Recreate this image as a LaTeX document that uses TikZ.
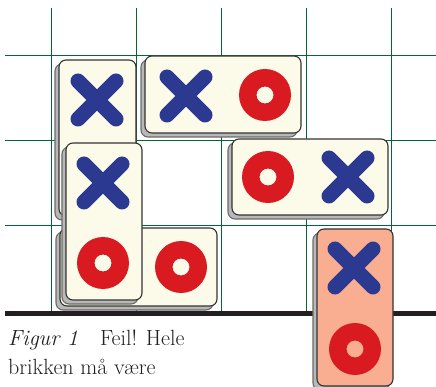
\documentclass[tikz,border=0pt]{standalone}
\usepackage{fontspec}
\usetikzlibrary{shadows}
\definecolor{gridgreen}{HTML}{006837}
\definecolor{inkblack}{HTML}{231F20}
\definecolor{cream}{HTML}{FCFAE8}
\definecolor{pinkface}{HTML}{F9AD91}
\definecolor{xblue}{HTML}{2B3990}
\definecolor{ored}{HTML}{D91A21}
\definecolor{shadowfill}{HTML}{B8B8B8}
\definecolor{shadowedge}{HTML}{6A6A6A}
\definecolor{tileedge}{HTML}{333333}
\begin{document}
\begin{tikzpicture}[x=1pt,y=-1pt,
  gridline/.style={draw=gridgreen, line width=0.9pt},
  baseline/.style={draw=inkblack, line width=5pt},
  tile/.style={draw=tileedge, line width=1.1pt, fill=cream, rounded corners=7pt,
    inner sep=0pt,
    general shadow={fill=shadowfill, draw=shadowedge, shadow xshift=-4pt, shadow yshift=-4pt}},
  pinktile/.style={tile, fill=pinkface},
  captext/.style={anchor=base west, inner sep=0pt, text=inkblack, font=\fontsize{22}{26}\selectfont},
  xsym/.pic={\draw[line width=15pt, line cap=round, xblue] (-19,-19) -- (19,19) (-19,19) -- (19,-19);},
  osym/.pic={\fill[ored, even odd rule] (0,0) circle[radius=26pt] (0,0) circle[radius=8.5pt];}
]
\useasboundingbox (0,0) rectangle (436,387);
% grid
\foreach \gx in {51,136,221,306,391} \draw[gridline] (\gx,8) -- (\gx,313);
\foreach \gy in {55,140,225} \draw[gridline] (5,\gy) -- (436,\gy);
\draw[baseline] (5,313.5) -- (436,313.5);
% tile A
\node[tile, minimum width=77pt, minimum height=156pt] (tA) at (97.5,138) {};
\pic at (97,100) {xsym};
% tile B
\node[tile, minimum width=156pt, minimum height=77pt] (tB) at (223,94.5) {};
\pic at (186,96) {xsym};
\pic at (265,95) {osym};
% tile C
\node[tile, minimum width=156pt, minimum height=76pt] (tC) at (310,177) {};
\pic at (268,177) {osym};
\pic at (348,177) {xsym};
% tile E
\node[tile, minimum width=157pt, minimum height=78pt] (tE) at (138.5,267) {};
\pic at (181,267) {osym};
% tile D
\node[tile, minimum width=76pt, minimum height=157pt] (tD) at (104,221.5) {};
\pic at (103,183) {xsym};
\pic at (103,263) {osym};
% tile F (pink)
\node[pinktile, minimum width=76pt, minimum height=157pt] (tF) at (355,307.5) {};
\pic at (354,268) {xsym};
\pic at (355,349) {osym};
% caption
\node[captext] (cap1) at (8,345) {\textit{Figur 1}\quad Feil! Hele};
\node[captext] (cap2) at (8,374.5) {brikken må være};
\end{tikzpicture}
\end{document}
